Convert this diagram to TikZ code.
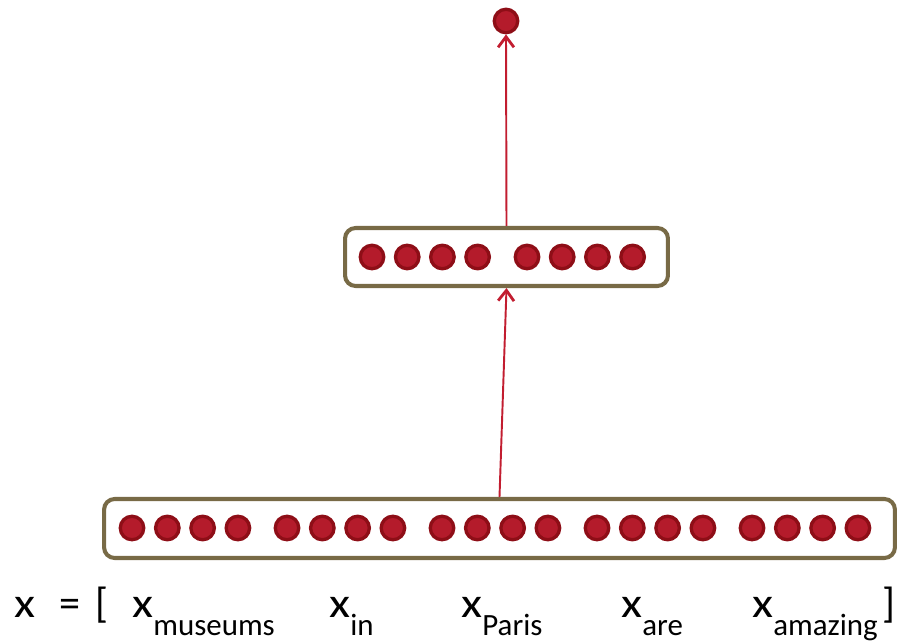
\documentclass[tikz,border=0pt]{standalone}
\usepackage{fontspec}
\setmainfont{Carlito}
\definecolor{marcoOliva}{RGB}{120,106,70}
\definecolor{rojoNeurona}{RGB}{180,27,43}
\definecolor{rojoBorde}{RGB}{142,14,23}
\definecolor{rojoFlecha}{RGB}{194,29,48}
\usetikzlibrary{arrows.meta}
\newcommand{\xword}[1]{\scalebox{1.15}[1]{x}\raisebox{-9.7pt}{\fontsize{17.6}{18}\selectfont #1}}

\begin{document}
\begin{tikzpicture}[
  x=0.02cm, y=-0.02cm,
  neuron/.style={circle, fill=rojoNeurona, draw=rojoBorde, line width=1.9pt,
                 minimum size=0.47cm, inner sep=0pt},
  layer/.style={rectangle, rounded corners=6pt, draw=marcoOliva, line width=2.3pt, inner sep=0pt},
  arr/.style={-{Straight Barb[length=6pt,width=9pt,line width=1.6pt]}, line width=1.1pt, color=rojoFlecha},
  word/.style={anchor=base west, inner sep=0pt, font=\fontsize{24}{28}\selectfont}
]
  \useasboundingbox (0,0) rectangle (913,641);

  \node[layer, minimum width=15.82cm, minimum height=1.18cm] (input) at (499.5,528.5) {};
  \node[layer, minimum width=6.46cm, minimum height=1.16cm] (hidden) at (506.5,257) {};
  \node[neuron] (out) at (506,21) {};

  \foreach \g in {0,...,4}
    \foreach \i in {0,...,3}
      \node[neuron] (in-\g-\i) at ({132+155*\g+35.3*\i},528) {};
  \foreach \g in {0,1}
    \foreach \i in {0,...,3}
      \node[neuron] (hid-\g-\i) at ({372+155*\g+35.2*\i},257) {};

  \draw[arr] (input.north) -- (hidden.south);
  \draw[arr] (hidden.north) -- (out.south);

  \node[word] (xvec) at (14,618) {\scalebox{1.15}[1]{x}};
  \node[word] (eq) at (59,618) {=};
  \node[word] (lbr) at (95,618) {[};
  \node[word] (wmus) at (132,618) {\xword{museums}};
  \node[word] (win) at (329,618) {\xword{in}};
  \node[word] (wpar) at (461,618) {\xword{Paris}};
  \node[word] (ware) at (621,618) {\xword{are}};
  \node[word] (wama) at (752,618) {\xword{amazing}};
  \node[word] (rbr) at (882,618) {]};
\end{tikzpicture}
\end{document}
